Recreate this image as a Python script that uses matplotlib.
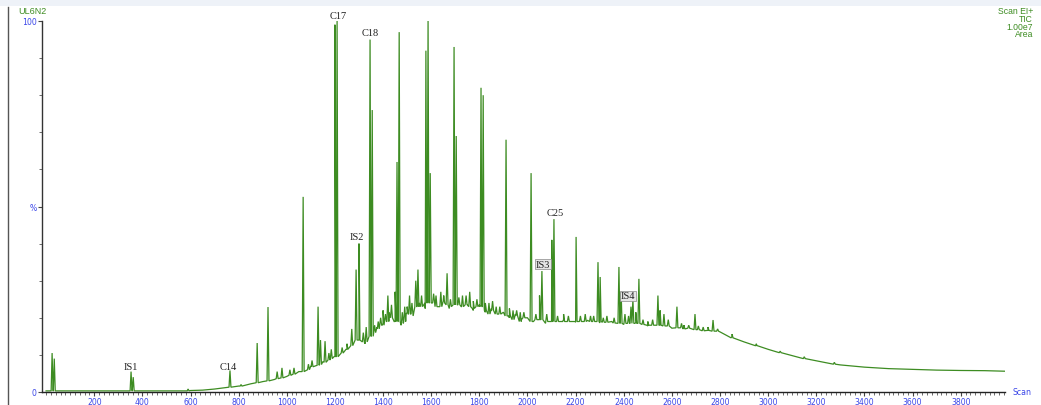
import numpy as np
import matplotlib.pyplot as plt
from matplotlib.lines import Line2D
from matplotlib.patches import Rectangle

# baseline of the total ion current (scan number, % of max)
base_scan = [0, 200, 400, 600, 650, 700, 750, 800, 850, 900, 950, 1000, 1050, 1100,
             1150, 1200, 1250, 1300, 1325, 1350, 1375, 1400, 1425, 1450, 1475, 1500,
             1525, 1550, 1575, 1600, 1625, 1650, 1675, 1700, 1725, 1750, 1775, 1800,
             1825, 1850, 1875, 1900, 1925, 1950, 1975, 2000, 2025, 2050, 2075, 2100,
             2150, 2200, 2250, 2300, 2350, 2400, 2450, 2500, 2550, 2600, 2650, 2700,
             2750, 2800, 2850, 2900, 2950, 3000, 3100, 3200, 3300, 3400, 3500,
             3600, 3700, 3800, 3900, 3985]
base_pct = [0.3, 0.3, 0.3, 0.4, 0.5, 0.8, 1.2, 1.6, 2.2, 2.8, 3.4, 4.2, 5.5, 7.0,
            8.2, 9.6, 11.5, 14.0, 13.0, 15.5, 17.5, 18.5, 21.5, 19.0, 18.0, 21.5,
            20.5, 24.0, 22.5, 24.5, 23.0, 24.5, 22.5, 24.0, 23.0, 23.5, 22.0, 23.5,
            21.5, 22.5, 21.0, 21.5, 20.0, 21.0, 19.5, 20.0, 19.0, 19.5, 18.5, 19.0,
            19.5, 18.8, 19.3, 18.6, 19.0, 18.2, 18.7, 17.8, 18.0, 17.2, 17.4, 16.8,
            16.6, 16.2, 15.0, 13.5, 12.5, 11.5, 9.8, 8.4, 7.3, 6.7, 6.3,
            6.1, 5.9, 5.8, 5.75, 5.6]

# peaks: apex scan, apex height, height at the foot
peak_scan = [25, 34, 353, 362, 590, 764, 810, 877, 922, 960, 980, 1013, 1068, 1130,
             1140, 1159, 1200, 1209, 1230, 1250, 1270, 1288, 1300, 1346, 1355, 1380,
             1400, 1420, 1450, 1458, 1467, 1490, 1510, 1536, 1545, 1578, 1587, 1596,
             1620, 1640, 1666, 1695, 1704, 1730, 1760, 1807, 1816, 1840, 1870, 1911,
             1940, 1970, 2015, 2050, 2060, 2101, 2110, 2150, 2202, 2240, 2262, 2293,
             2302, 2330, 2380, 2389, 2405, 2430, 2438, 2463, 2500, 2542, 2551, 2567,
             2621, 2650, 2696, 2730, 2771, 2850, 2950, 3050, 3150, 3275]
peak_top = [10.5, 9.0, 5.5, 4.0, 0.8, 5.8, 2.0, 13.2, 22.9, 5.5, 6.5, 6.0, 52.6, 23.0,
            14.0, 13.7, 99.0, 100.0, 12.0, 13.0, 17.0, 33.0, 40.0, 95.0, 76.0, 19.0,
            22.0, 26.0, 27.0, 62.0, 97.0, 23.0, 26.0, 30.0, 33.0, 92.0, 100.0, 59.0,
            26.0, 27.0, 32.0, 93.0, 69.0, 26.0, 27.0, 82.0, 80.0, 24.0, 23.0, 68.0,
            22.0, 21.5, 59.0, 26.0, 32.6, 41.0, 46.6, 21.0, 41.8, 21.0, 20.5, 35.0,
            31.0, 20.5, 33.7, 27.0, 21.0, 23.0, 25.0, 30.5, 19.0, 26.0, 22.0, 21.0,
            23.0, 18.0, 21.0, 17.5, 19.4, 15.6, 13.0, 11.0, 9.5, 8.0]
peak_base = [0.3, 0.3, 0.3, 0.3, 0.3, 1.3, 1.6, 2.5, 3.0, 3.6, 3.8, 4.5, 5.5, 7.2,
             7.4, 8.0, 9.5, 9.5, 10.5, 11.5, 12.5, 14.0, 14.0, 15.0, 15.0, 17.0,
             18.0, 19.0, 19.0, 19.0, 19.0, 19.0, 21.0, 23.0, 23.0, 24.0, 24.0, 24.0,
             23.0, 23.0, 23.5, 23.5, 23.5, 23.0, 23.0, 23.0, 23.0, 21.0, 21.0, 20.5,
             19.5, 19.0, 19.0, 19.5, 19.5, 19.0, 19.0, 19.0, 19.0, 19.0, 19.0, 19.0,
             19.0, 18.8, 18.5, 18.5, 18.5, 18.5, 18.5, 18.5, 18.0, 18.0, 18.0, 17.8,
             17.3, 17.0, 16.8, 16.5, 16.4, 14.6, 12.5, 10.6, 9.0, 7.5]

# small noise peaks riding on the hump
small_scan = [1030, 1090, 1105, 1175, 1185, 1318, 1330, 1365, 1390, 1410, 1435, 1480,
              1500, 1520, 1560, 1610, 1652, 1680, 1715, 1745, 1775, 1790, 1825, 1855,
              1885, 1925, 1955, 1985, 2035, 2080, 2125, 2170, 2220, 2275, 2315, 2360,
              2420, 2450, 2480, 2520, 2585, 2640, 2670, 2710, 2750, 2790]
small_top = [6.5, 7.5, 8.5, 10.5, 11.5, 16.0, 17.5, 18.0, 20.0, 21.0, 23.5, 21.5,
             23.0, 24.0, 26.0, 26.5, 26.0, 25.0, 25.5, 26.0, 24.5, 25.0, 24.0, 24.5,
             23.0, 22.5, 22.0, 21.5, 21.0, 21.0, 20.5, 20.5, 20.5, 20.5, 20.0, 20.0,
             20.5, 21.5, 19.5, 19.5, 19.5, 18.5, 18.0, 17.8, 17.5, 17.0]
small_base = [4.8, 6.0, 6.8, 8.6, 9.0, 13.5, 13.5, 16.0, 18.0, 19.0, 20.0, 18.5,
              21.0, 21.0, 23.0, 24.0, 24.0, 23.0, 23.5, 23.5, 22.5, 23.0, 22.0, 22.0,
              21.0, 20.5, 20.5, 20.0, 19.5, 19.0, 19.0, 19.0, 19.0, 19.0, 18.8, 18.6,
              18.5, 18.5, 18.2, 18.0, 17.8, 17.3, 17.2, 16.8, 16.6, 16.4]

# compound labels: text, scan, height, boxed
label_text = ['IS1', 'C14', 'C17', 'C18', 'IS2', 'IS3', 'C25', 'IS4']
label_scan = [353, 756, 1213, 1346, 1292, 2064, 2114, 2418]
label_pct = [6.8, 7.0, 101.6, 97.0, 42.0, 34.5, 48.5, 25.9]
label_box = [False, False, False, False, False, True, False, True]

# assemble the trace: baseline points plus a narrow spike for every peak
xs = list(base_scan)
ys = list(base_pct)
for s, t, b in zip(peak_scan + small_scan, peak_top + small_top, peak_base + small_base):
    xs += [s - 4, s, s + 4]
    ys += [b, t, b]
order = np.argsort(xs, kind='stable')
xs = np.array(xs)[order]
ys = np.array(ys)[order]

green = '#3d8c22'
blue = '#3a46e8'

fig = plt.figure(figsize=(10.41, 4.06), dpi=100)
ax = fig.add_axes([42 / 1041, 13 / 406, 963 / 1041, 371 / 406])
ax.plot(xs, ys, color=green, lw=0.9, solid_joinstyle='miter')

ax.set_xlim(-17, 3984)
ax.set_ylim(0, 100)
for side in ['top', 'right']:
    ax.spines[side].set_visible(False)
ax.spines['left'].set_color('#333333')
ax.spines['bottom'].set_color('#222222')
ax.spines['left'].set_linewidth(1.0)
ax.spines['bottom'].set_linewidth(1.0)

ax.set_xticks(np.arange(200, 3801, 200))
ax.set_xticks(np.arange(0, 3981, 20), minor=True)
ax.set_yticks([0, 50, 100])
ax.set_yticklabels(['0', '%', '100'])
ax.set_yticks(np.arange(0, 101, 10), minor=True)
ax.tick_params(axis='both', which='major', length=3, width=0.8, color='#444444',
               labelcolor=blue, labelsize=5.6, pad=1)
ax.tick_params(axis='x', which='major', pad=0.3)
ax.tick_params(axis='both', which='minor', length=2, width=0.6, color='#555555')
for lab in ax.get_xticklabels() + ax.get_yticklabels():
    lab.set_family('DejaVu Sans')

for t, s, p, boxed in zip(label_text, label_scan, label_pct, label_box):
    kw = {}
    if boxed:
        kw['bbox'] = dict(boxstyle='square,pad=0.05', fc='#e6e6e6', ec='#888888', lw=0.5)
    ax.text(s, p, t, ha='center', va='center', fontsize=7.5,
            family='Liberation Serif', color='#222222', clip_on=False, **kw)

ax.text(1.008, 0.0, 'Scan', transform=ax.transAxes, ha='left', va='center',
        fontsize=5.6, color=blue)

# header texts
fig.text(18 / 1041, 1 - 11 / 406, 'UL6N2', color=green, fontsize=6.5,
         ha='left', va='center', family='Liberation Sans')
for txt, ypx in zip(['Scan EI+', 'TIC', '1.00e7', 'Area'], [11, 19.5, 27, 34.5]):
    fig.text(1033 / 1041, 1 - ypx / 406, txt, color=green, fontsize=6.2,
             ha='right', va='center', family='Liberation Sans')

# window frame
fig.patches.append(Rectangle((0, 1 - 7 / 406), 1, 7 / 406, transform=fig.transFigure,
                             facecolor='#eef2f8', edgecolor='none'))
fig.add_artist(Line2D([8 / 1041, 8 / 1041], [0, 1 - 8 / 406], color='#555555', lw=1.0))

fig.savefig('out.png', dpi=100)
